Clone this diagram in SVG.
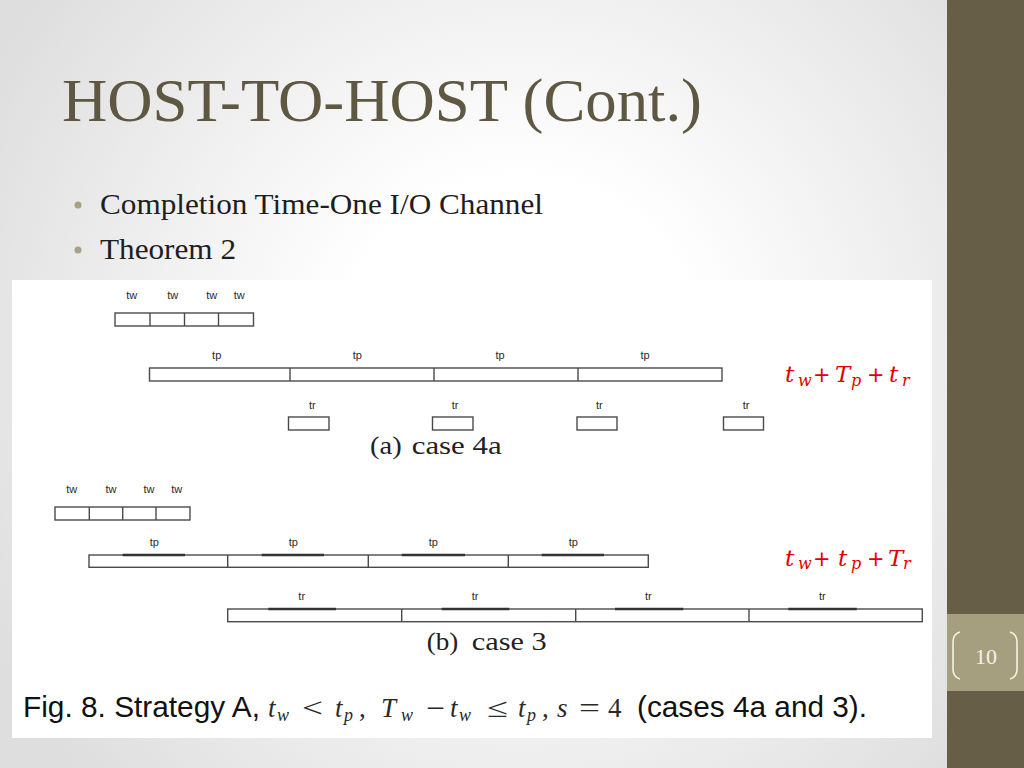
<svg xmlns="http://www.w3.org/2000/svg" width="1024" height="768" viewBox="0 0 1024 768">
<defs>
<radialGradient id="bg" cx="520" cy="360" r="600" gradientUnits="userSpaceOnUse">
<stop offset="0.3" stop-color="#ffffff"/>
<stop offset="1" stop-color="#dedede"/>
</radialGradient>
</defs>
<style>
.title{font-family:"Liberation Serif","Times New Roman",serif;font-size:62px;fill:#5e5741}
.bul{font-family:"Liberation Serif","Times New Roman",serif;font-size:29px;fill:#1e1e1e}
.box{fill:#ffffff;stroke:#4a4a4a;stroke-width:1.4}
.div{stroke:#4a4a4a;stroke-width:1.4}
.thk{stroke:#333;stroke-width:2.4}
.lbl{font-family:"Liberation Sans",Arial,sans-serif;font-size:11px;fill:#2a2a2a;text-anchor:middle}
.sub{font-family:"Liberation Serif","Times New Roman",serif;font-size:26px;fill:#222}
.red{font-family:"DejaVu Serif","Liberation Serif",serif;font-style:italic;font-size:23px;fill:#e00000}
.rs{font-size:16px}
.ro{font-style:normal;font-family:"DejaVu Sans","Liberation Sans",sans-serif;font-size:21px}
.cap{font-family:"Liberation Sans",Arial,sans-serif;font-size:29px;fill:#111}
.m{font-family:"Liberation Serif","Times New Roman",serif;font-style:italic;font-size:27px;fill:#2a2a2a}
.ms{font-size:18px}
.mo{font-style:normal}
</style>
<rect x="0" y="0" width="1024" height="768" fill="url(#bg)"/>
<g id="sidebar">
<rect x="947" y="0" width="77" height="768" fill="#665e47"/>
<rect x="947" y="614" width="77" height="77" fill="#a59f7f"/>
<path d="M960 632 Q953 634 953 642 L953 669 Q953 677 960 679" fill="none" stroke="#f6f2e2" stroke-width="1.6"/>
<path d="M1010 632 Q1017 634 1017 642 L1017 669 Q1017 677 1010 679" fill="none" stroke="#f6f2e2" stroke-width="1.6"/>
<text x="986" y="664" text-anchor="middle" font-family="Liberation Serif,serif" font-size="22" fill="#f6f2e2">10</text>
</g>
<g id="title">
<text class="title" x="62" y="121" textLength="640" lengthAdjust="spacingAndGlyphs">HOST-TO-HOST (Cont.)</text>
</g>
<g id="bullets">
<circle cx="78" cy="205" r="3.5" fill="#a8a283"/>
<text class="bul" x="100" y="214" textLength="443" lengthAdjust="spacingAndGlyphs">Completion Time-One I/O Channel</text>
<circle cx="78" cy="250" r="3.5" fill="#a8a283"/>
<text class="bul" x="100" y="259" textLength="136" lengthAdjust="spacingAndGlyphs">Theorem 2</text>
</g>
<rect id="figure-panel" x="12" y="280" width="920" height="458" fill="#ffffff"/>
<g id="case4a">
<g id="a-tw">
<rect class="box" x="115" y="313" width="138.5" height="13"/>
<line class="div" x1="150" y1="313" x2="150" y2="326"/>
<line class="div" x1="184.5" y1="313" x2="184.5" y2="326"/>
<line class="div" x1="218.5" y1="313" x2="218.5" y2="326"/>
<text class="lbl" x="131.7" y="299">tw</text>
<text class="lbl" x="172.7" y="299">tw</text>
<text class="lbl" x="211.7" y="299">tw</text>
<text class="lbl" x="239.3" y="299">tw</text>
</g>
<g id="a-tp">
<rect class="box" x="149.5" y="368" width="572.5" height="13"/>
<line class="div" x1="290" y1="368" x2="290" y2="381"/>
<line class="div" x1="434" y1="368" x2="434" y2="381"/>
<line class="div" x1="578" y1="368" x2="578" y2="381"/>
<text class="lbl" x="216.7" y="359">tp</text>
<text class="lbl" x="357.3" y="359">tp</text>
<text class="lbl" x="500" y="359">tp</text>
<text class="lbl" x="645" y="359">tp</text>
</g>
<g id="a-tr">
<rect class="box" x="288.5" y="417" width="40.5" height="13"/>
<rect class="box" x="432.5" y="417" width="40.5" height="13"/>
<rect class="box" x="577" y="417" width="40" height="13"/>
<rect class="box" x="723.5" y="417" width="40" height="13"/>
<text class="lbl" x="312.3" y="409">tr</text>
<text class="lbl" x="455" y="409">tr</text>
<text class="lbl" x="599.3" y="409">tr</text>
<text class="lbl" x="746" y="409">tr</text>
</g>
<text class="sub" x="370" y="454" textLength="31.7" lengthAdjust="spacingAndGlyphs">(a)</text>
<text class="sub" x="411.7" y="454" textLength="90" lengthAdjust="spacingAndGlyphs">case 4a</text>
<g id="formula-a" class="red">
<text x="785" y="381.7">t</text>
<text class="rs" x="798" y="385.5">w</text>
<text class="ro" x="813" y="381.7">+</text>
<text x="835" y="381.7">T</text>
<text class="rs" x="851" y="385.5">p</text>
<text class="ro" x="867" y="381.7">+</text>
<text x="889" y="381.7">t</text>
<text class="rs" x="902" y="385.5">r</text>
</g>
</g>
<g id="case3">
<g id="b-tw">
<rect class="box" x="55" y="507" width="135" height="13"/>
<line class="div" x1="89.3" y1="507" x2="89.3" y2="520"/>
<line class="div" x1="122.7" y1="507" x2="122.7" y2="520"/>
<line class="div" x1="156" y1="507" x2="156" y2="520"/>
<text class="lbl" x="71.7" y="493.3">tw</text>
<text class="lbl" x="111" y="493.3">tw</text>
<text class="lbl" x="149" y="493.3">tw</text>
<text class="lbl" x="176.7" y="493.3">tw</text>
</g>
<g id="b-tp">
<rect class="box" x="89" y="555" width="559.3" height="12.3"/>
<line class="div" x1="227.7" y1="555" x2="227.7" y2="567.3"/>
<line class="div" x1="368.3" y1="555" x2="368.3" y2="567.3"/>
<line class="div" x1="508.3" y1="555" x2="508.3" y2="567.3"/>
<line class="thk" x1="122.7" y1="555" x2="185" y2="555"/>
<line class="thk" x1="261.7" y1="555" x2="324" y2="555"/>
<line class="thk" x1="401.7" y1="555" x2="465" y2="555"/>
<line class="thk" x1="541.7" y1="555" x2="604" y2="555"/>
<text class="lbl" x="154.3" y="546">tp</text>
<text class="lbl" x="293.3" y="546">tp</text>
<text class="lbl" x="433.3" y="546">tp</text>
<text class="lbl" x="573.3" y="546">tp</text>
</g>
<g id="b-tr">
<rect class="box" x="227.7" y="609" width="694.6" height="12.7"/>
<line class="div" x1="401.7" y1="609" x2="401.7" y2="621.7"/>
<line class="div" x1="575.7" y1="609" x2="575.7" y2="621.7"/>
<line class="div" x1="749" y1="609" x2="749" y2="621.7"/>
<line class="thk" x1="268.3" y1="609" x2="336" y2="609"/>
<line class="thk" x1="441.7" y1="609" x2="509.3" y2="609"/>
<line class="thk" x1="615" y1="609" x2="683.3" y2="609"/>
<line class="thk" x1="788.3" y1="609" x2="856.7" y2="609"/>
<text class="lbl" x="301.7" y="600">tr</text>
<text class="lbl" x="475" y="600">tr</text>
<text class="lbl" x="648.3" y="600">tr</text>
<text class="lbl" x="822.3" y="600">tr</text>
</g>
<text class="sub" x="426.7" y="650" textLength="31.6" lengthAdjust="spacingAndGlyphs">(b)</text>
<text class="sub" x="471.7" y="650" textLength="75" lengthAdjust="spacingAndGlyphs">case 3</text>
<g id="formula-b" class="red">
<text x="785" y="565.5">t</text>
<text class="rs" x="798" y="569.3">w</text>
<text class="ro" x="813" y="565.5">+</text>
<text x="838" y="565.5">t</text>
<text class="rs" x="851" y="569.3">p</text>
<text class="ro" x="867" y="565.5">+</text>
<text x="888" y="565.5">T</text>
<text class="rs" x="903" y="569.3">r</text>
</g>
</g>
<g id="caption">
<text class="cap" x="23" y="717" textLength="237" lengthAdjust="spacingAndGlyphs">Fig. 8. Strategy A,</text>
<g class="m">
<text x="268" y="717">t</text>
<text class="ms" x="277" y="721">w</text>
<text class="mo" x="302" y="717" textLength="21" lengthAdjust="spacingAndGlyphs">&lt;</text>
<text x="335" y="717">t</text>
<text class="ms" x="344" y="721">p</text>
<text class="mo" x="359" y="717">,</text>
<text x="381" y="717">T</text>
<text class="ms" x="401" y="721">w</text>
<text class="mo" x="426" y="717" textLength="19" lengthAdjust="spacingAndGlyphs">−</text>
<text x="450" y="717">t</text>
<text class="ms" x="459" y="721">w</text>
<text class="mo" x="487" y="717" textLength="21" lengthAdjust="spacingAndGlyphs">≤</text>
<text x="518" y="717">t</text>
<text class="ms" x="527" y="721">p</text>
<text class="mo" x="542" y="717">,</text>
<text x="557" y="717">s</text>
<text class="mo" x="579" y="717" textLength="21" lengthAdjust="spacingAndGlyphs">=</text>
<text class="mo" x="608" y="717">4</text>
</g>
<text class="cap" x="637" y="717" textLength="230" lengthAdjust="spacingAndGlyphs">(cases 4a and 3).</text>
</g>
</svg>
